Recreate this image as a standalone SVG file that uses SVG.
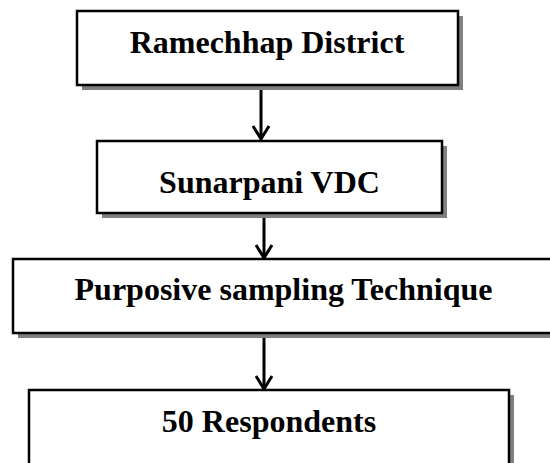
<svg xmlns="http://www.w3.org/2000/svg" width="550" height="463" viewBox="0 0 550 463">
<style>
.shadow{fill:#808080;stroke:none}
.box{fill:#fff;stroke:#000;stroke-width:2.5}
.lbl{font-family:"Liberation Serif","Times New Roman",serif;font-weight:bold;font-size:32px;text-anchor:middle;fill:#000}
.conn{stroke:#000;stroke-width:3;fill:none}
.head{stroke:#000;stroke-width:3;fill:none;stroke-linecap:butt;stroke-linejoin:miter}
</style>
<rect width="550" height="463" fill="#fff"/>
<g id="connectors">
<line class="conn" x1="261" y1="86" x2="261" y2="139"/>
<polyline class="head" points="253,126 261,139 269,126"/>
<line class="conn" x1="264" y1="213" x2="264" y2="258"/>
<polyline class="head" points="256,245 264,258 272,245"/>
<line class="conn" x1="264" y1="334" x2="264" y2="389"/>
<polyline class="head" points="256,376 264,389 272,376"/>
</g>
<g id="node1">
<rect class="shadow" x="82" y="16" width="381" height="74"/>
<rect class="box" x="77" y="11" width="381" height="74"/>
<text class="lbl" x="267" y="53">Ramechhap District</text>
</g>
<g id="node2">
<rect class="shadow" x="102" y="146" width="345" height="72"/>
<rect class="box" x="97" y="141" width="345" height="72"/>
<text class="lbl" x="269.5" y="193">Sunarpani VDC</text>
</g>
<g id="node3">
<rect class="shadow" x="18" y="264" width="541" height="74"/>
<rect class="box" x="13" y="259" width="541" height="74"/>
<text class="lbl" x="283.5" y="300">Purposive sampling Technique</text>
</g>
<g id="node4">
<rect class="shadow" x="34" y="395" width="480" height="90"/>
<rect class="box" x="29" y="390" width="480" height="90"/>
<text class="lbl" x="269" y="432">50 Respondents</text>
</g>
</svg>
